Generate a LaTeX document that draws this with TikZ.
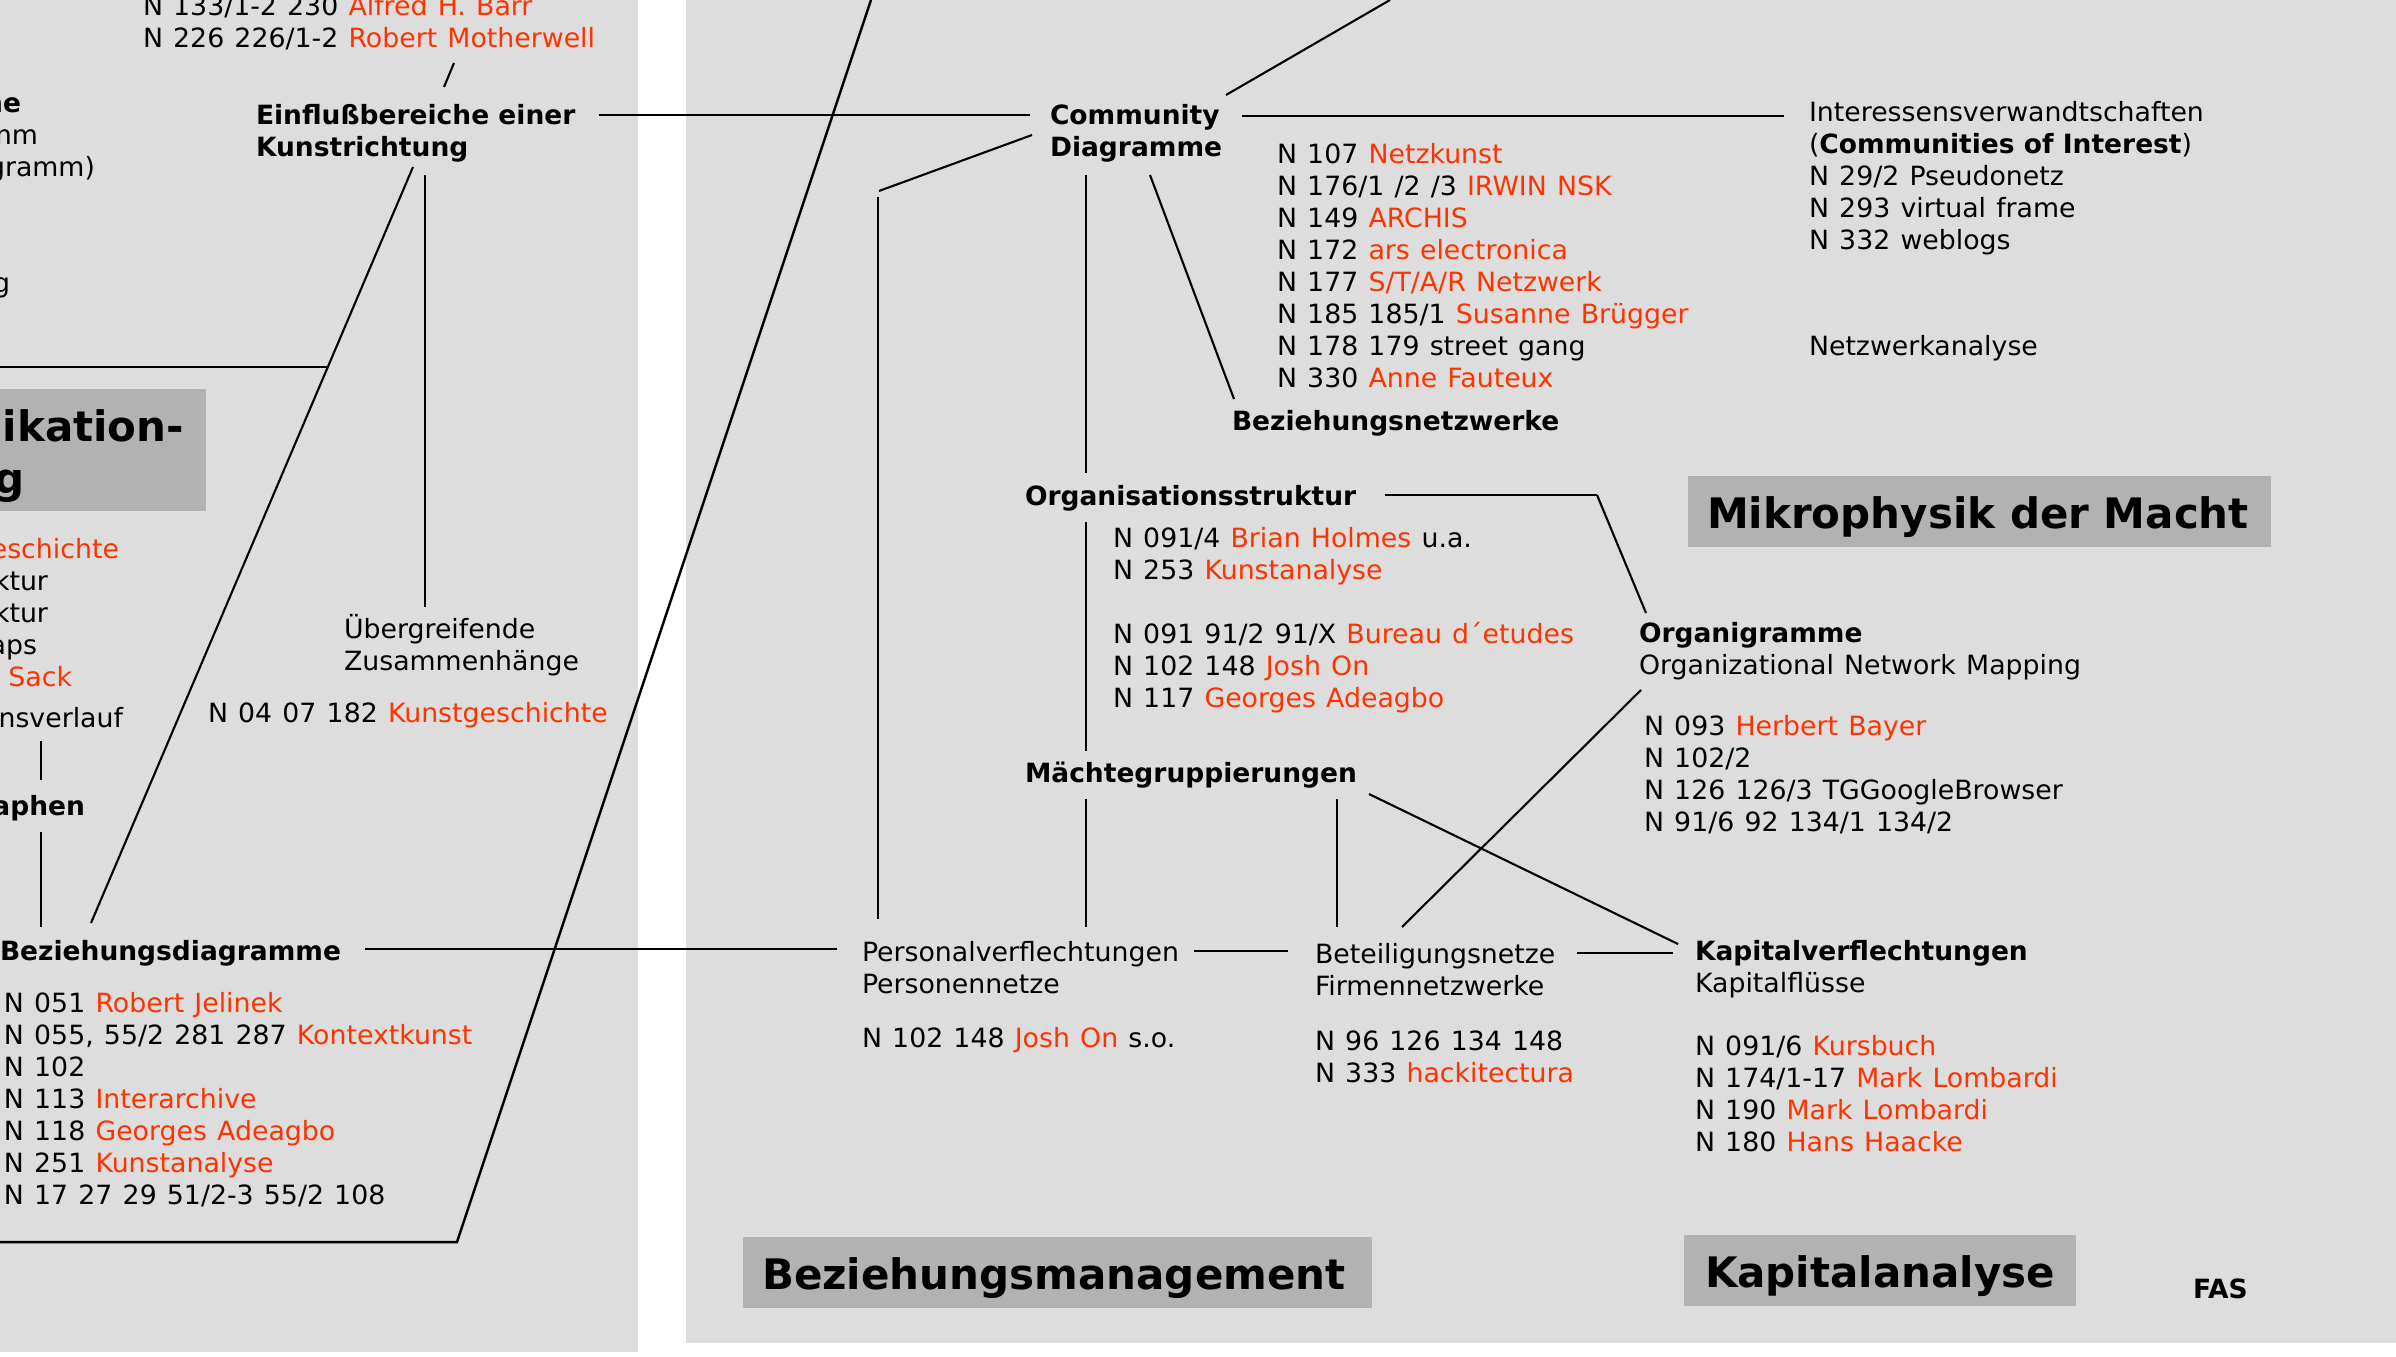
\documentclass[tikz,border=0pt]{standalone}
\usepackage{fontspec}
\setmainfont{DejaVu Sans}[UprightFeatures={FakeStretch=1.01,WordSpace=1.2}]
\definecolor{panel}{RGB}{221,221,221}
\definecolor{titlebox}{RGB}{178,178,178}
\definecolor{fasred}{RGB}{255,51,0}
\newcommand\rd[1]{\textcolor{fasred}{#1}}
\newcommand\rows[1]{\vtop{\halign{##\hfil\cr#1\crcr}}}
\tikzset{
  txt/.style={anchor=base west, inner sep=0pt, outer sep=0pt, font=\fontsize{26.5}{32}\selectfont},
  txtb/.style={txt, font=\fontsize{26.5}{32}\selectfont\bfseries},
  frag/.style={txt, anchor=base east},
  fragb/.style={txtb, anchor=base east},
  ttl/.style={anchor=base west, inner sep=0pt, outer sep=0pt, font=\fontsize{42}{52}\selectfont\bfseries},
  ln/.style={line width=2.5pt},
  lnthin/.style={line width=2.1pt},
}
\begin{document}
\begin{tikzpicture}[x=1pt,y=-1pt]
\useasboundingbox (0,0) rectangle (2396,1357);
\clip (0,0) rectangle (2396,1357);
\fill[white] (0,0) rectangle (2396,1357);
% panels
\fill[panel] (0,0) rectangle (638,1352);
\fill[panel] (686,0) rectangle (2396,1343);
% title boxes
\fill[titlebox] (-10,389) rectangle (206,511);
\fill[titlebox] (1688,476) rectangle (2271,547);
\fill[titlebox] (743,1237) rectangle (1372,1308);
\fill[titlebox] (1684,1235) rectangle (2076,1306);
\node[ttl, anchor=base east] (tA1) at (184,441) {ikation-};
\node[ttl, anchor=base east] (tA2) at (25,493) {g};
\node[ttl] (tMacht) at (1707,528) {Mikrophysik der Macht};
\node[ttl] (tBez) at (762,1289) {Beziehungsmanagement};
\node[ttl] (tKap) at (1705,1287) {Kapitalanalyse};

% left panel texts
\node[txt] (barr) at (143,16) {\rows{N 133/1-2 230 \rd{Alfred H. Barr}\cr N 226 226/1-2 \rd{Robert Motherwell}}};
\node[txtb] (einfl) at (256,124) {\rows{Einflußbereiche einer\cr Kunstrichtung}};
\node[fragb] (fA) at (21,112) {ne};
\node[frag] (fB) at (38,144) {mm};
\node[frag] (fC) at (95,176) {gramm)};
\node[frag] (fD) at (10,292) {g};
\node[frag] (fE) at (119,558) {\rd{eschichte}};
\node[frag] (fF) at (48,590) {ktur};
\node[frag] (fG) at (48,622) {ktur};
\node[frag] (fH) at (37,654) {aps};
\node[frag] (fI) at (72,686) {\rd{Sack}};
\node[frag] (fJ) at (123,727) {nsverlauf};
\node[fragb] (fK) at (85,815) {aphen};
\node[txt] (uebergr) at (344,638) {\rows{Übergreifende\cr Zusammenhänge}};
\node[txt] (kgesch) at (208,722) {N 04 07 182 \rd{Kunstgeschichte}};
\node[txtb] (bezdia) at (0,960) {Beziehungsdiagramme};
\node[txt] (bezitems) at (4,1012) {\rows{N 051 \rd{Robert Jelinek}\cr
N 055, 55/2 281 287 \rd{Kontextkunst}\cr
N 102\cr
N 113 \rd{Interarchive}\cr
N 118 \rd{Georges Adeagbo}\cr
N 251 \rd{Kunstanalyse}\cr
N 17 27 29 51/2-3 55/2 108}};

% right panel texts
\node[txtb] (comm) at (1050,124) {\rows{Community\cr Diagramme}};
\node[txt] (commitems) at (1277,163) {\rows{N 107 \rd{Netzkunst}\cr
N 176/1 /2 /3 \rd{IRWIN NSK}\cr
N 149 \rd{ARCHIS}\cr
N 172 \rd{ars electronica}\cr
N 177 \rd{S/T/A/R Netzwerk}\cr
N 185 185/1 \rd{Susanne Brügger}\cr
N 178 179 street gang\cr
N 330 \rd{Anne Fauteux}}};
\node[txtb] (beznetz) at (1232,430) {Beziehungsnetzwerke};
\node[txt] (interess) at (1809,121) {\rows{Interessensverwandtschaften\cr
(\textbf{Communities of Interest})\cr
N 29/2 Pseudonetz\cr
N 293 virtual frame\cr
N 332 weblogs}};
\node[txt] (netzan) at (1809,355) {Netzwerkanalyse};
\node[txtb] (orgstr) at (1025,505) {Organisationsstruktur};
\node[txt] (orgitems) at (1113,547) {\rows{N 091/4 \rd{Brian Holmes} u.a.\cr
N 253 \rd{Kunstanalyse}\cr
\cr
N 091 91/2 91/X \rd{Bureau d´etudes}\cr
N 102 148 \rd{Josh On}\cr
N 117 \rd{Georges Adeagbo}}};
\node[txtb] (maecht) at (1025,782) {Mächtegruppierungen};
\node[txt] (organi) at (1639,642) {\rows{\textbf{Organigramme}\cr Organizational Network Mapping}};
\node[txt] (organiitems) at (1644,735) {\rows{N 093 \rd{Herbert Bayer}\cr
N 102/2\cr
N 126 126/3 TGGoogleBrowser\cr
N 91/6 92 134/1 134/2}};
\node[txt] (personal) at (862,961) {\rows{Personalverflechtungen\cr Personennetze}};
\node[txt] (personalitems) at (862,1047) {N 102 148 \rd{Josh On} s.o.};
\node[txt] (beteil) at (1315,963) {\rows{Beteiligungsnetze\cr Firmennetzwerke}};
\node[txt] (beteilitems) at (1315,1050) {\rows{N 96 126 134 148\cr N 333 \rd{hackitectura}}};
\node[txt] (kapital) at (1695,960) {\rows{\textbf{Kapitalverflechtungen}\cr Kapitalflüsse}};
\node[txt] (kapitems) at (1695,1055) {\rows{N 091/6 \rd{Kursbuch}\cr
N 174/1-17 \rd{Mark Lombardi}\cr
N 190 \rd{Mark Lombardi}\cr
N 180 \rd{Hans Haacke}}};
\node[txtb] (fas) at (2193,1298) {FAS};

% connector end points
\coordinate (a1) at (454,63);   \coordinate (a2) at (444,87);
\coordinate (b1) at (599,115);  \coordinate (b2) at (1030,115);
\coordinate (c1) at (0,367);    \coordinate (c2) at (328,367);
\coordinate (d1) at (413,167);  \coordinate (d2) at (91,923);
\coordinate (e1) at (425,175);  \coordinate (e2) at (425,607);
\coordinate (f1) at (41,741);   \coordinate (f2) at (41,780);
\coordinate (g1) at (41,832);   \coordinate (g2) at (41,927);
\coordinate (h1) at (365,949);  \coordinate (h2) at (837,949);
\coordinate (i1) at (-5,1242);  \coordinate (i2) at (457,1242); \coordinate (i3) at (871,0);
\coordinate (j1) at (1390,0);   \coordinate (j2) at (1226,95);
\coordinate (k1) at (1242,116); \coordinate (k2) at (1784,116);
\coordinate (l1) at (1032,135); \coordinate (l2) at (879,191);
\coordinate (m1) at (878,197);  \coordinate (m2) at (878,919);
\coordinate (n1) at (1086,175); \coordinate (n2) at (1086,473);
\coordinate (o1) at (1150,175); \coordinate (o2) at (1234,399);
\coordinate (p1) at (1385,495); \coordinate (p2) at (1597,495); \coordinate (p3) at (1646,613);
\coordinate (q1) at (1086,522); \coordinate (q2) at (1086,751);
\coordinate (r1) at (1086,799); \coordinate (r2) at (1086,927);
\coordinate (s1) at (1337,799); \coordinate (s2) at (1337,927);
\coordinate (t1) at (1369,794); \coordinate (t2) at (1678,944);
\coordinate (u1) at (1641,690); \coordinate (u2) at (1402,927);
\coordinate (v1) at (1194,951); \coordinate (v2) at (1288,951);
\coordinate (w1) at (1577,953); \coordinate (w2) at (1673,953);

% connectors
\draw[lnthin] (a1) -- (a2);
\draw[ln] (b1) -- (b2);
\draw[ln] (c1) -- (c2);
\draw[lnthin] (d1) -- (d2);
\draw[lnthin] (e1) -- (e2);
\draw[lnthin] (f1) -- (f2);
\draw[lnthin] (g1) -- (g2);
\draw[ln] (h1) -- (h2);
\draw[ln] (i1) -- (i2) -- (i3);
\draw[lnthin] (j1) -- (j2);
\draw[ln] (k1) -- (k2);
\draw[lnthin] (l1) -- (l2);
\draw[lnthin] (m1) -- (m2);
\draw[lnthin] (n1) -- (n2);
\draw[lnthin] (o1) -- (o2);
\draw[ln] (p1) -- (p2);
\draw[lnthin] (p2) -- (p3);
\draw[lnthin] (q1) -- (q2);
\draw[lnthin] (r1) -- (r2);
\draw[lnthin] (s1) -- (s2);
\draw[lnthin] (t1) -- (t2);
\draw[lnthin] (u1) -- (u2);
\draw[ln] (v1) -- (v2);
\draw[ln] (w1) -- (w2);
\end{tikzpicture}
\end{document}
